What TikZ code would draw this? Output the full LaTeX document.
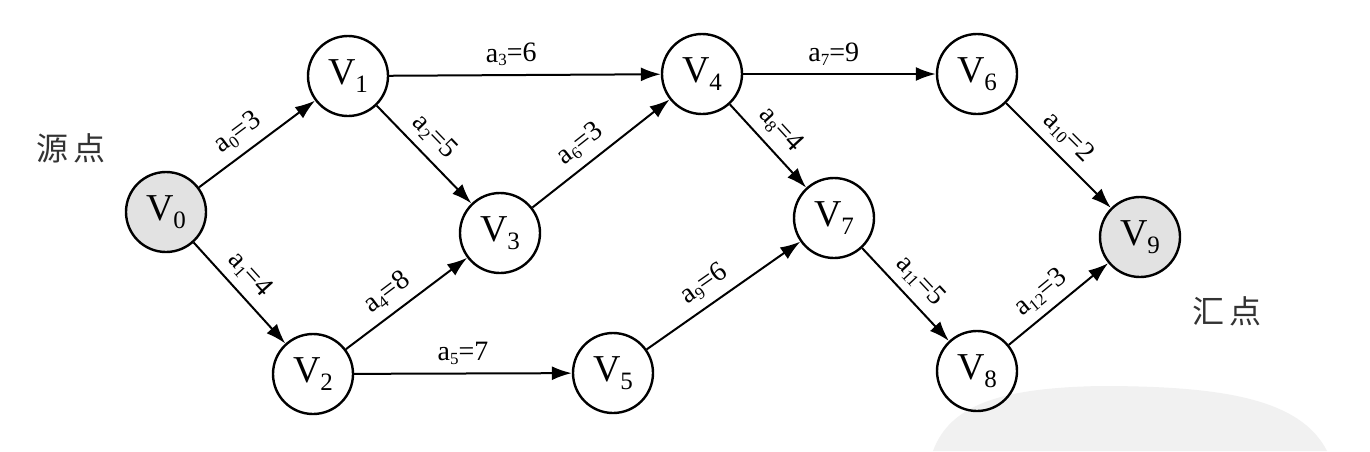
\documentclass[tikz,border=0pt]{standalone}
\usepackage{fontspec}
\setmainfont{Liberation Serif}
\newfontfamily\cjk{Noto Sans CJK SC}
\usetikzlibrary{arrows.meta}
\definecolor{nodegray}{HTML}{E2E2E2}
\definecolor{wmgray}{HTML}{F1F1F1}
\newcommand\vx[1]{V\raisebox{-8pt}{\fontsize{25}{25}\selectfont #1}}
\newcommand\ea[2]{a\raisebox{-4pt}{\fontsize{17}{17}\selectfont #1}=#2}
\tikzset{
  vert/.style={circle, draw, line width=2.4pt, minimum size=80pt, inner sep=0pt,
    font=\fontsize{38}{38}\selectfont},
  term/.style={vert, fill=nodegray},
  edge/.style={line width=2pt, -{Latex[length=20pt,width=14pt]}},
  elab/.style={sloped, above=8pt, inner sep=0pt, font=\fontsize{28}{28}\selectfont},
  cjklab/.style={font=\cjk\fontsize{32}{32}\selectfont, text=black!80}
}
\begin{document}
\begin{tikzpicture}[x=1pt,y=-1pt]
\useasboundingbox (0,0) rectangle (1370,451);
\fill[white] (0,0) rectangle (1370,451);
% watermark blob
\fill[wmgray] (933,451) .. controls (950,405) and (1000,388) .. (1100,386)
  .. controls (1220,386) and (1300,398) .. (1327,451) -- cycle;

\node[term] (v0) at (166,212) {\vx{0}};
\node[vert] (v1) at (348,76) {\vx{1}};
\node[vert] (v2) at (313,374) {\vx{2}};
\node[vert] (v3) at (500,233) {\vx{3}};
\node[vert] (v4) at (702,74) {\vx{4}};
\node[vert] (v5) at (613,373) {\vx{5}};
\node[vert] (v6) at (977,74) {\vx{6}};
\node[vert] (v7) at (834,218) {\vx{7}};
\node[vert] (v8) at (977,371) {\vx{8}};
\node[term] (v9) at (1140,237) {\vx{9}};

\node[cjklab] (src) at (71,148) {源\hspace{5pt}点};
\node[cjklab] (snk) at (1227,311) {汇\hspace{5pt}点};

\draw[edge] (v0) -- node[elab, pos=0.44] {\ea{0}{3}} (v1);
\draw[edge] (v0) -- node[elab, pos=0.45] {\ea{1}{4}} (v2);
\draw[edge] (v1) -- node[elab, pos=0.46] {\ea{2}{5}} (v3);
\draw[edge] (v1) -- node[elab, pos=0.45] {\ea{3}{6}} (v4);
\draw[edge] (v2) -- node[elab, pos=0.44] {\ea{4}{8}} (v3);
\draw[edge] (v2) -- node[elab, pos=0.5] {\ea{5}{7}} (v5);
\draw[edge] (v3) -- node[elab, pos=0.44] {\ea{6}{3}} (v4);
\draw[edge] (v4) -- node[elab, pos=0.47] {\ea{7}{9}} (v6);
\draw[edge] (v4) -- node[elab, pos=0.47] {\ea{8}{4}} (v7);
\draw[edge] (v5) -- node[elab, pos=0.45] {\ea{9}{6}} (v7);
\draw[edge] (v6) -- node[elab, pos=0.46] {\ea{10}{2}} (v9);
\draw[edge] (v7) -- node[elab, pos=0.5] {\ea{11}{5}} (v8);
\draw[edge] (v8) -- node[elab, pos=0.45] {\ea{12}{3}} (v9);
\end{tikzpicture}
\end{document}
